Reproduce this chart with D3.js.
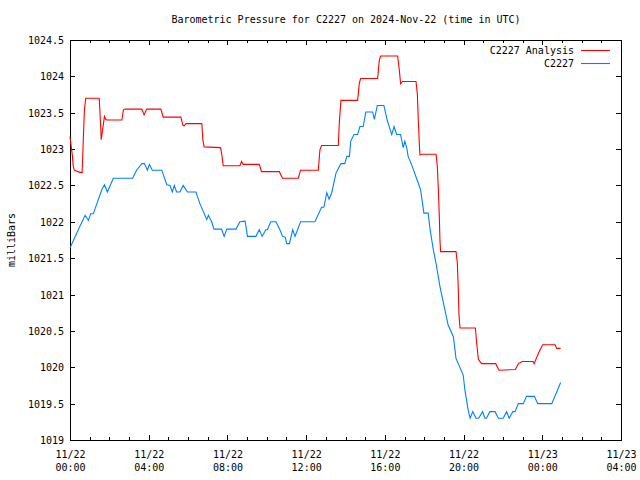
<!DOCTYPE html>
<html>
<head>
<meta charset="utf-8">
<script src="https://cdn.jsdelivr.net/npm/d3@7"></script>
<style>
  html, body { margin: 0; padding: 0; background: #fff; }
  svg text { font-family: "DejaVu Sans Mono", "Liberation Mono", monospace; font-size: 10px; fill: #000; }
</style>
</head>
<body>
<svg id="chart" width="640" height="480"></svg>
<script>
// ---- Data (minutes after 2024-11-22 00:00 UTC, millibars) ----
const title = "Barometric Pressure for C2227 on 2024-Nov-22 (time in UTC)";
const yLabel = "milliBars";
const seriesNames = ["C2227 Analysis", "C2227"];

const analysisMinutes = [0,7,10,13,30,37,41,44,48,89,91,94,95,98,102,105,109,112,158,163,168,219,226,234,277,284,338,344,348,354,402,405,409,459,463,467,518,523,528,577,584,638,648,696,703,757,762,767,818,821,826,877,882,886,938,943,947,999,1004,1008,1014,1055,1059,1062,1065,1067,1072,1116,1120,1123,1126,1128,1130,1177,1181,1184,1186,1189,1236,1240,1245,1255,1298,1308,1358,1367,1379,1412,1415,1428,1441,1479,1484,1496];
const analysisValues = [1023.17,1022.92,1022.76,1022.71,1022.68,1022.68,1023.19,1023.54,1023.70,1023.70,1023.54,1023.27,1023.13,1023.22,1023.35,1023.45,1023.41,1023.40,1023.40,1023.54,1023.55,1023.55,1023.47,1023.55,1023.55,1023.44,1023.44,1023.33,1023.32,1023.35,1023.35,1023.13,1023.03,1023.02,1022.92,1022.77,1022.77,1022.83,1022.79,1022.79,1022.69,1022.69,1022.60,1022.60,1022.71,1022.71,1022.99,1023.05,1023.05,1023.35,1023.67,1023.67,1023.90,1023.97,1023.97,1024.22,1024.28,1024.28,1024.09,1023.90,1023.93,1023.93,1023.76,1023.40,1023.08,1022.92,1022.93,1022.93,1022.76,1022.45,1022.08,1021.75,1021.59,1021.59,1021.43,1021.06,1020.72,1020.54,1020.54,1020.33,1020.11,1020.05,1020.05,1019.96,1019.97,1020.05,1020.08,1020.08,1020.05,1020.19,1020.31,1020.31,1020.26,1020.26];

const obsMinutes = [0,20,46,56,63,71,97,105,114,132,191,203,219,227,236,242,251,280,295,305,312,318,325,335,345,358,384,396,417,422,432,439,462,470,478,506,518,534,541,567,577,586,597,602,612,628,640,648,656,661,669,679,686,703,747,767,774,783,790,798,811,826,838,844,852,856,866,877,884,894,902,923,928,937,957,967,981,988,996,1008,1016,1021,1027,1031,1042,1062,1069,1079,1092,1098,1108,1116,1128,1143,1153,1169,1177,1184,1199,1204,1214,1220,1228,1238,1246,1258,1265,1270,1280,1296,1306,1321,1331,1339,1350,1357,1367,1382,1392,1416,1426,1469,1496];
const obsValues = [1021.64,1021.84,1022.09,1022.02,1022.11,1022.11,1022.44,1022.51,1022.41,1022.60,1022.60,1022.71,1022.80,1022.80,1022.71,1022.79,1022.71,1022.71,1022.51,1022.50,1022.41,1022.50,1022.41,1022.41,1022.50,1022.41,1022.41,1022.25,1022.03,1022.09,1022.00,1021.90,1021.90,1021.80,1021.90,1021.90,1022.00,1022.01,1021.80,1021.80,1021.89,1021.80,1021.89,1021.89,1022.00,1022.00,1021.89,1021.80,1021.79,1021.70,1021.70,1021.89,1021.80,1022.00,1022.00,1022.20,1022.20,1022.40,1022.31,1022.40,1022.67,1022.80,1022.80,1022.90,1022.90,1023.11,1023.20,1023.20,1023.31,1023.31,1023.51,1023.51,1023.41,1023.60,1023.60,1023.40,1023.20,1023.31,1023.20,1023.20,1023.02,1023.11,1023.01,1022.90,1022.78,1022.53,1022.44,1022.12,1022.12,1021.89,1021.61,1021.43,1021.11,1020.79,1020.58,1020.42,1020.12,1020.05,1019.89,1019.69,1019.41,1019.30,1019.39,1019.30,1019.30,1019.39,1019.30,1019.30,1019.39,1019.39,1019.30,1019.30,1019.39,1019.30,1019.39,1019.39,1019.50,1019.50,1019.60,1019.60,1019.50,1019.50,1019.79];

const yTicks = [1019, 1019.5, 1020, 1020.5, 1021, 1021.5, 1022, 1022.5, 1023, 1023.5, 1024, 1024.5];
const xTickHours = [0, 4, 8, 12, 16, 20, 24, 28];
const xTickLabels = [["11/22","00:00"],["11/22","04:00"],["11/22","08:00"],["11/22","12:00"],["11/22","16:00"],["11/22","20:00"],["11/23","00:00"],["11/23","04:00"]];
const colors = ["#ff0000", "#0080ff"];

// ---- Layout ----
const svg = d3.select("#chart");
const L = 70, R = 621, T = 40, B = 440;
const t0 = new Date(Date.UTC(2024, 10, 22, 0, 0));
const toDate = m => new Date(t0.getTime() + m * 60000);

const x = d3.scaleUtc().domain([t0, toDate(28 * 60)]).range([L, R]);
const y = d3.scaleLinear().domain([1019, 1024.5]).range([B, T]);

// Title
svg.append("text").attr("x", (L + R) / 2 + 0.5).attr("y", 23)
  .attr("text-anchor", "middle").text(title);

// Y label
svg.append("text").attr("transform", "translate(15,240) rotate(-90)")
  .attr("text-anchor", "middle").text(yLabel);

// Axes with ticks
const hourTicks = d3.range(0, 29).map(h => toDate(h * 60));
const majorSet = new Set(xTickHours);

const g = svg.append("g").attr("shape-rendering", "crispEdges");

hourTicks.forEach((d, i) => {
  const len = majorSet.has(i) ? 5 : 3;
  const px = Math.round(x(d)) + 0.5;
  g.append("line").attr("x1", px).attr("x2", px).attr("y1", B).attr("y2", B - len).attr("stroke", "#000");
  g.append("line").attr("x1", px).attr("x2", px).attr("y1", T).attr("y2", T + len).attr("stroke", "#000");
});

yTicks.forEach(v => {
  const py = Math.round(y(v)) + 0.5;
  g.append("line").attr("x1", L).attr("x2", L + 5).attr("y1", py).attr("y2", py).attr("stroke", "#000");
  g.append("line").attr("x1", R).attr("x2", R - 5).attr("y1", py).attr("y2", py).attr("stroke", "#000");
});

// y tick labels via axis
const yAxis = d3.axisLeft(y).tickValues(yTicks).tickSize(0).tickPadding(6).tickFormat(d => String(d));
const gy = svg.append("g").attr("transform", `translate(${L},0)`).call(yAxis);
gy.select(".domain").remove();
gy.selectAll("text").attr("font-family", null).attr("font-size", null).attr("dy", "0.35em");

// x tick labels via axis
const xAxis = d3.axisBottom(x).tickValues(xTickHours.map(h => toDate(h * 60))).tickSize(0).tickFormat("");
const gx = svg.append("g").attr("transform", `translate(0,${B})`).call(xAxis);
gx.select(".domain").remove();
gx.selectAll(".tick").each(function(d, i) {
  const t = d3.select(this);
  t.selectAll("text").remove();
  t.append("text").attr("y", 18).attr("text-anchor", "middle").text(xTickLabels[i][0]);
  t.append("text").attr("y", 31).attr("text-anchor", "middle").text(xTickLabels[i][1]);
});

// frame
g.append("rect").attr("x", L + 0.5).attr("y", T + 0.5).attr("width", R - L).attr("height", B - T)
  .attr("fill", "none").attr("stroke", "#000");

// lines
const line = d3.line().x(d => x(toDate(d[0]))).y(d => y(d[1]));
const analysisData = analysisMinutes.map((m, i) => [m, analysisValues[i]]);
const obsData = obsMinutes.map((m, i) => [m, obsValues[i]]);

svg.append("path").datum(analysisData).attr("d", line)
  .attr("fill", "none").attr("stroke", colors[0]).attr("stroke-width", 1.1);
svg.append("path").datum(obsData).attr("d", line)
  .attr("fill", "none").attr("stroke", colors[1]).attr("stroke-width", 1.1);

// legend
seriesNames.forEach((name, i) => {
  const ly = 50 + i * 13;
  svg.append("text").attr("x", 574).attr("y", ly + 3.5).attr("text-anchor", "end").text(name);
  svg.append("line").attr("x1", 581).attr("x2", 610).attr("y1", ly + 0.5).attr("y2", ly + 0.5)
    .attr("stroke", colors[i]).attr("stroke-width", 1.1);
});
</script>
</body>
</html>
